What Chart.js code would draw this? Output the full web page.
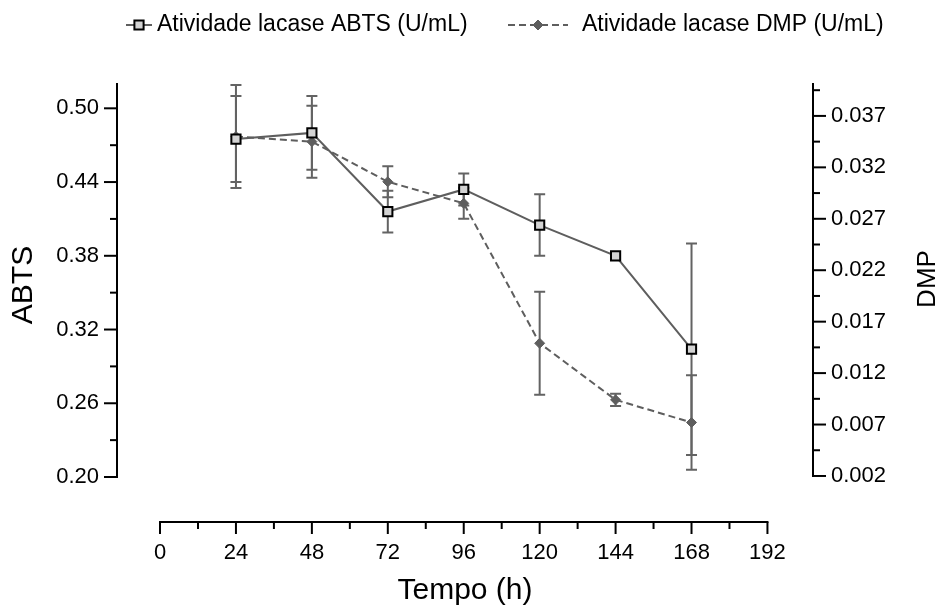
<!DOCTYPE html>
<html>
<head>
<meta charset="utf-8">
<script src="https://cdn.jsdelivr.net/npm/chart.js@4.4.1/dist/chart.umd.min.js"></script>
<style>
  html, body { margin: 0; padding: 0; background: #fff; }
</style>
</head>
<body>
<canvas id="myChart" width="944" height="608"></canvas>
<script>
const hours = [24, 48, 72, 96, 120, 144, 168];
const abts = [0.475, 0.480, 0.416, 0.434, 0.405, 0.380, 0.304];
const abtsErr = [0.035, 0.030, 0.017, 0.013, 0.025, 0, 0.086];
const dmp = [0.0350, 0.0345, 0.0306, 0.0285, 0.0149, 0.0094, 0.0072];
const dmpErr = [0.0050, 0.0035, 0.0015, 0.0015, 0.0050, 0.0006, 0.0046];
const xTicks = [0, 24, 48, 72, 96, 120, 144, 168, 192];
const abtsTicks = [0.20, 0.26, 0.32, 0.38, 0.44, 0.50];
const dmpTicks = [0.002, 0.007, 0.012, 0.017, 0.022, 0.027, 0.032, 0.037];

const gray = '#5e5e5e';
const font = 'Liberation Sans, Arial, sans-serif';
Chart.defaults.font.family = font;
Chart.defaults.color = '#000';

// minor ticks halfway between major ones
function halves(t) {
  const out = [];
  for (let i = 0; i < t.length - 1; i++) out.push((t[i] + t[i + 1]) / 2);
  return out;
}

const errorBars = {
  id: 'errorBars',
  beforeDatasetsDraw(chart) {
    const ctx = chart.ctx;
    const x = chart.scales.x;
    ctx.save();
    ctx.strokeStyle = '#636363';
    ctx.lineWidth = 2;
    [[abts, abtsErr, 'y'], [dmp, dmpErr, 'y1']].forEach(([vals, errs, id]) => {
      const s = chart.scales[id];
      vals.forEach((v, i) => {
        if (!errs[i]) return;
        const px = x.getPixelForValue(hours[i]);
        const top = s.getPixelForValue(v + errs[i]);
        const bot = s.getPixelForValue(v - errs[i]);
        ctx.beginPath();
        ctx.moveTo(px, top); ctx.lineTo(px, bot);
        ctx.moveTo(px - 5.5, top); ctx.lineTo(px + 5.5, top);
        ctx.moveTo(px - 5.5, bot); ctx.lineTo(px + 5.5, bot);
        ctx.stroke();
      });
    });
    ctx.restore();
  }
};

function vertTitle(ctx, text, size, cx, cy) {
  ctx.save();
  ctx.fillStyle = '#000';
  ctx.font = size + 'px ' + font;
  ctx.textAlign = 'center';
  ctx.textBaseline = 'middle';
  ctx.translate(cx, cy);
  ctx.rotate(-Math.PI / 2);
  ctx.fillText(text, 0, 0);
  ctx.restore();
}

const axisLines = {
  id: 'axisLines',
  afterDraw(chart) {
    const ctx = chart.ctx, a = chart.chartArea;
    const {x, y, y1} = chart.scales;
    ctx.save();
    ctx.strokeStyle = '#000';
    ctx.lineWidth = 2;
    const seg = (x0, y0, x1, y1_) => { ctx.beginPath(); ctx.moveTo(x0, y0); ctx.lineTo(x1, y1_); ctx.stroke(); };
    // left axis
    seg(a.left, a.top, a.left, a.bottom + 1);
    abtsTicks.forEach(v => { const p = y.getPixelForValue(v); seg(a.left - 13, p, a.left, p); });
    halves(abtsTicks).forEach(v => { const p = y.getPixelForValue(v); seg(a.left - 7, p, a.left, p); });
    // right axis
    seg(a.right, a.top, a.right, a.bottom);
    dmpTicks.forEach(v => { const p = y1.getPixelForValue(v); seg(a.right, p, a.right + 13, p); });
    halves(dmpTicks).concat([0.0395]).forEach(v => { const p = y1.getPixelForValue(v); seg(a.right, p, a.right + 7, p); });
    // x axis, detached below the plot
    const xa = a.bottom + 45;
    seg(x.getPixelForValue(xTicks[0]) - 1, xa, x.getPixelForValue(xTicks[xTicks.length - 1]) + 1, xa);
    xTicks.forEach(v => { const p = x.getPixelForValue(v); seg(p, xa, p, xa + 12); });
    halves(xTicks).forEach(v => { const p = x.getPixelForValue(v); seg(p, xa, p, xa + 7); });
    ctx.restore();
    // y titles, both read bottom to top
    const mid = (a.top + a.bottom) / 2;
    vertTitle(ctx, 'ABTS', 30, 24, mid + 5);
    vertTitle(ctx, 'DMP', 26, 928, mid - 1);
  }
};

const legendSpots = [
  {from: 126, to: 152, text: 157},
  {from: 508, to: 568, text: 582}
];

const lineLegend = {
  id: 'lineLegend',
  afterDraw(chart) {
    const ctx = chart.ctx;
    const ly = 25;
    chart.data.datasets.forEach((ds, i) => {
      const spot = legendSpots[i];
      ctx.save();
      ctx.strokeStyle = ds.borderColor;
      ctx.lineWidth = ds.borderWidth;
      ctx.setLineDash(ds.borderDash || []);
      ctx.beginPath();
      ctx.moveTo(spot.from, ly);
      ctx.lineTo(spot.to, ly);
      ctx.stroke();
      ctx.setLineDash([]);
      ctx.fillStyle = ds.pointBackgroundColor;
      ctx.strokeStyle = ds.pointBorderColor;
      ctx.lineWidth = ds.pointBorderWidth;
      Chart.helpers.drawPoint(ctx, {
        pointStyle: ds.pointStyle, radius: ds.pointRadius, borderWidth: ds.pointBorderWidth
      }, (spot.from + spot.to) / 2, ly);
      ctx.fillStyle = '#000';
      ctx.font = '23px ' + font;
      ctx.textAlign = 'left';
      ctx.textBaseline = 'middle';
      ctx.fillText(ds.label, spot.text, ly);
      ctx.restore();
    });
  }
};

new Chart('myChart', {
  type: 'line',
  data: {
    datasets: [{
      label: 'Atividade lacase ABTS (U/mL)',
      data: hours.map((h, i) => ({x: h, y: abts[i]})),
      yAxisID: 'y',
      borderColor: gray,
      borderWidth: 2,
      pointStyle: 'rect',
      pointRadius: 6.5,
      pointBackgroundColor: '#d3d3d3',
      pointBorderColor: '#000',
      pointBorderWidth: 2,
      fill: false
    }, {
      label: 'Atividade lacase DMP (U/mL)',
      data: hours.map((h, i) => ({x: h, y: dmp[i]})),
      yAxisID: 'y1',
      borderColor: gray,
      borderWidth: 2,
      borderDash: [7, 4],
      pointStyle: 'rectRot',
      pointRadius: 5,
      pointBackgroundColor: gray,
      pointBorderColor: gray,
      pointBorderWidth: 1,
      fill: false
    }]
  },
  options: {
    responsive: false,
    animation: false,
    layout: {padding: {top: 83, left: 0, right: 0, bottom: 0}},
    plugins: {legend: {display: false}, tooltip: {enabled: false}},
    scales: {
      x: {
        type: 'linear',
        min: -13.6,
        max: 206.4,
        afterBuildTicks: s => { s.ticks = xTicks.map(v => ({value: v})); },
        afterFit: s => { s.height = 131; },
        grid: {display: false, drawTicks: false},
        border: {display: false},
        ticks: {font: {size: 22}, padding: 63, maxRotation: 0, autoSkip: false},
        title: {display: true, text: 'Tempo (h)', font: {size: 30}, padding: {top: 0, bottom: -1}}
      },
      y: {
        position: 'left',
        min: 0.20,
        max: 0.5206,
        afterBuildTicks: s => { s.ticks = abtsTicks.map(v => ({value: v})); },
        afterFit: s => { s.width = 117; },
        grid: {display: false, drawTicks: false},
        border: {display: false},
        ticks: {font: {size: 22}, padding: 18, callback: v => v.toFixed(2)}
      },
      y1: {
        position: 'right',
        min: 0.0019,
        max: 0.0402,
        afterBuildTicks: s => { s.ticks = dmpTicks.map(v => ({value: v})); },
        afterFit: s => { s.width = 131; },
        grid: {display: false, drawTicks: false},
        border: {display: false},
        ticks: {font: {size: 22}, padding: 18, callback: v => v.toFixed(3)}
      }
    }
  },
  plugins: [errorBars, axisLines, lineLegend]
});
</script>
</body>
</html>
